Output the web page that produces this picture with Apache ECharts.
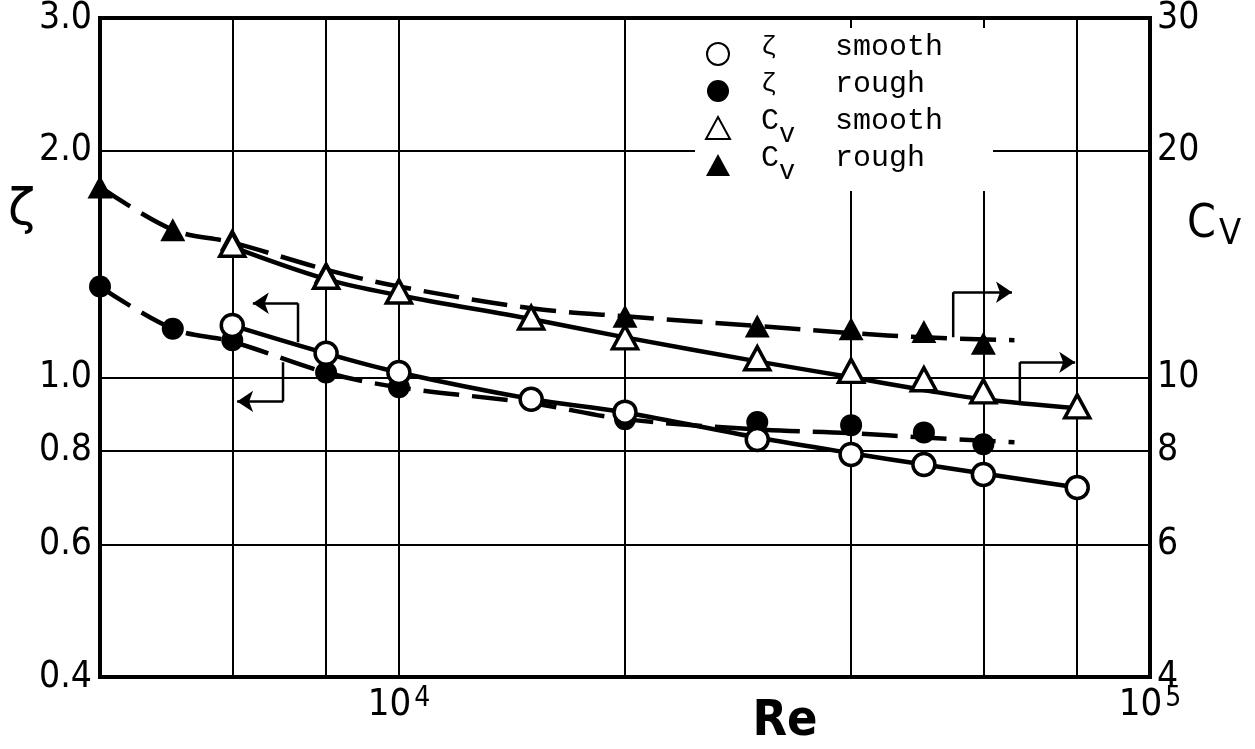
<!DOCTYPE html>
<html>
<head>
<meta charset="utf-8">
<title>zeta, Cv - Re</title>
<script src="https://cdn.jsdelivr.net/npm/echarts@6/dist/echarts.min.js"></script>
<style>
    html, body { margin: 0; padding: 0; background: #fff; }
    #chart { width: 1255px; height: 749px; }
</style>
</head>
<body>
<div id="chart"></div>
<script type="text/javascript">
    // measured points (Re), null = no point at that Re
    var reValues   = [4000, 5000, 6000, 8000, 10000, 15000, 20000, 30000, 40000, 50000, 60000, 80000];
    var zetaSmooth = [null, null, 1.172, 1.076, 1.015, 0.935, 0.899, 0.827, 0.790, 0.766, 0.743, 0.714];
    var zetaRough  = [1.32, 1.16, 1.12, 1.015, 0.970, null, 0.880, 0.872, 0.864, 0.845, 0.815, null];
    var cvSmooth   = [null, null, 15.0, 13.6, 13.0, 12.0, 11.3, 10.6, 10.2, 9.94, 9.58, 9.15];
    var cvRough    = [17.9, 15.7, 15.25, 13.8, 13.1, null, 12.05, 11.7, 11.6, 11.5, 11.1, null];

    // faired curves drawn through the points
    var roughCurveRe   = [4000, 5000, 6000, 8000, 10000, 15000, 20000, 30000, 40000, 50000, 66000];
    var smoothCurveRe  = [6000, 8000, 10000, 15000, 20000, 30000, 40000, 50000, 60000, 80000];
    var zetaRoughCurve  = [1.32, 1.16, 1.115, 1.015, 0.970, 0.924, 0.880, 0.853, 0.843, 0.832, 0.820];
    var zetaSmoothCurve = [1.172, 1.076, 1.015, 0.936, 0.898, 0.832, 0.793, 0.766, 0.745, 0.714];
    var cvRoughCurve    = [17.9, 15.7, 15.1, 13.9, 13.2, 12.35, 12.05, 11.7, 11.45, 11.3, 11.2];
    var cvSmoothCurve   = [14.9, 13.5, 12.85, 11.95, 11.3, 10.5, 10.0, 9.62, 9.35, 9.1];

    // arrows telling which axis a curve belongs to (last leg carries the head)
    var arrowZetaSmooth = [[7340, 1.113], [7340, 1.254], [6390, 1.254]];
    var arrowZetaRough  = [[7010, 1.047], [7010, 0.929], [6090, 0.929]];
    var arrowCvRough    = [[54700, 11.3], [54700, 12.97], [65500, 12.97]];
    var arrowCvSmooth   = [[67100, 9.29], [67100, 10.47], [79500, 10.47]];

    // ticks / grid
    var reGrid     = [6000, 8000, 10000, 20000, 40000, 60000, 80000];
    var reLabels   = [10000, 100000];
    var zetaTicks  = [0.4, 0.6, 0.8, 1.0, 2.0, 3.0];
    var cvTicks    = [4, 6, 8, 10, 20, 30];

    var seriesNames = ['ζ smooth', 'ζ rough', 'Cv smooth', 'Cv rough'];

    var numFont  = "'Liberation Sans Narrow', 'DejaVu Sans Condensed', 'Liberation Sans', sans-serif";
    var monoFont = "'Liberation Mono', 'DejaVu Sans Mono', monospace";

    function pairs(xs, ys) {
        var out = [];
        for (var i = 0; i < xs.length; i++) {
            if (ys[i] != null) out.push([xs[i], ys[i]]);
        }
        return out;
    }

    function curve(name, xs, ys, axis, dashed) {
        return {
            name: name,
            type: 'line',
            yAxisIndex: axis,
            data: pairs(xs, ys),
            smooth: 0.35,
            showSymbol: false,
            silent: true,
            z: 2,
            lineStyle: { color: '#000', width: 4.5, type: dashed ? [36, 13] : 'solid' }
        };
    }

    function points(name, ys, axis, symbol, filled) {
        return {
            name: name,
            type: 'scatter',
            yAxisIndex: axis,
            data: pairs(reValues, ys),
            symbol: symbol,
            symbolSize: symbol == 'triangle' ? [25, 23] : 22,
            z: filled ? 3 : 4,
            itemStyle: filled
                ? { color: '#000', opacity: 1 }
                : { color: '#fff', borderColor: '#000', borderWidth: 3.5, opacity: 1 }
        };
    }

    // stems (all legs but the last) and heads (last leg with arrow symbol)
    function arrowStems(list, axis) {
        return {
            type: 'lines', coordinateSystem: 'cartesian2d', yAxisIndex: axis,
            polyline: true, silent: true, z: 5,
            lineStyle: { color: '#000', width: 2.5, opacity: 1 },
            data: list.map(function (c) { return { coords: c.slice(0, c.length - 1) }; })
        };
    }
    function arrowHeads(list, axis) {
        return {
            type: 'lines', coordinateSystem: 'cartesian2d', yAxisIndex: axis,
            silent: true, z: 5,
            symbol: ['none', 'arrow'], symbolSize: 16,
            lineStyle: { color: '#000', width: 2.5, opacity: 1 },
            data: list.map(function (c) { return { coords: c.slice(c.length - 2) }; })
        };
    }

    var chart = echarts.init(document.getElementById('chart'));
    chart.setOption({
        animation: false,
        backgroundColor: '#fff',
        grid: {
            left: 100, right: 105, top: 18, bottom: 72,
            outerBoundsMode: 'none',
            containLabel: false,
            show: true, borderColor: '#000', borderWidth: 4
        },
        legend: {
            data: seriesNames,
            orient: 'vertical',
            left: 695, top: 28,
            padding: [4, 50, 4, 10],
            itemGap: -7,
            itemWidth: 24, itemHeight: 22,
            backgroundColor: '#fff',
            selectedMode: false,
            textStyle: {
                fontFamily: monoFont, fontSize: 30, color: '#000',
                rich: {
                    g: { fontFamily: monoFont, fontSize: 26, lineHeight: 30, width: 74, padding: [0, 0, 14, 26] },
                    c: { fontFamily: monoFont, fontSize: 30, lineHeight: 30, padding: [0, 0, 14, 26] },
                    v: { fontFamily: monoFont, fontSize: 27, lineHeight: 21, width: 56, padding: [13, 0, 0, 0] },
                    t: { fontFamily: monoFont, fontSize: 30, lineHeight: 30, padding: [0, 0, 14, 0] }
                }
            },
            formatter: function (name) {
                var parts = name.split(' ');
                if (parts[0] == 'ζ') return '{g|ζ}{t|' + parts[1] + '}';
                return '{c|C}{v|v}{t|' + parts[1] + '}';
            }
        },
        graphic: [
            {
                type: 'text', left: 8, top: 186,
                style: { text: 'ζ', font: "50px 'DejaVu Sans', sans-serif", fill: '#000' }
            },
            {
                type: 'text', left: 1187, top: 197,
                style: {
                    text: '{c|C}{v|V}', fill: '#000',
                    rich: {
                        c: { fontFamily: numFont, fontSize: 46, lineHeight: 46, verticalAlign: 'top' },
                        v: { fontFamily: numFont, fontSize: 36, lineHeight: 36, padding: [20, 0, 0, 3] }
                    }
                }
            }
        ],
        xAxis: {
            type: 'log', logBase: 10, min: 4000, max: 100000,
            name: 'Re', nameLocation: 'middle', nameGap: 20,
            nameMoveOverlap: false,
            nameTextStyle: {
                fontFamily: numFont, fontSize: 50, fontWeight: 'bold', color: '#000',
                padding: [0, 0, 0, 320]
            },
            axisLine: { show: false },
            axisTick: { show: false, customValues: reGrid },
            splitLine: { show: true, lineStyle: { color: '#000', width: 2 } },
            axisLabel: {
                customValues: reLabels,
                margin: 8,
                color: '#000',
                formatter: function (v) {
                    return '{b|10}{s|' + Math.round(Math.log(v) / Math.LN10) + '}';
                },
                rich: {
                    b: { fontFamily: numFont, fontSize: 38, lineHeight: 40, color: '#000' },
                    s: { fontFamily: numFont, fontSize: 28, lineHeight: 28, verticalAlign: 'top', color: '#000', padding: [0, 0, 0, 3] }
                }
            }
        },
        yAxis: [{
            type: 'log', logBase: 10, min: 0.4, max: 3,
            axisLine: { show: false },
            axisTick: { show: false, customValues: zetaTicks },
            splitLine: { show: true, lineStyle: { color: '#000', width: 2 } },
            axisLabel: {
                customValues: zetaTicks,
                margin: 8,
                color: '#000', fontFamily: numFont, fontSize: 37,
                formatter: function (v) { return v.toFixed(1); }
            }
        }, {
            type: 'log', logBase: 10, min: 4, max: 30,
            position: 'right',
            axisLine: { show: false },
            axisTick: { show: false, customValues: cvTicks },
            splitLine: { show: false },
            axisLabel: {
                customValues: cvTicks,
                margin: 7,
                color: '#000', fontFamily: numFont, fontSize: 37,
                formatter: function (v) { return String(Math.round(v)); }
            }
        }],
        series: [
            curve('zeta rough curve', roughCurveRe, zetaRoughCurve, 0, true),
            curve('zeta smooth curve', smoothCurveRe, zetaSmoothCurve, 0, false),
            curve('Cv rough curve', roughCurveRe, cvRoughCurve, 1, true),
            curve('Cv smooth curve', smoothCurveRe, cvSmoothCurve, 1, false),
            points('ζ rough', zetaRough, 0, 'circle', true),
            points('Cv rough', cvRough, 1, 'triangle', true),
            points('ζ smooth', zetaSmooth, 0, 'circle', false),
            points('Cv smooth', cvSmooth, 1, 'triangle', false),
            arrowStems([arrowZetaSmooth, arrowZetaRough], 0),
            arrowHeads([arrowZetaSmooth, arrowZetaRough], 0),
            arrowStems([arrowCvRough, arrowCvSmooth], 1),
            arrowHeads([arrowCvRough, arrowCvSmooth], 1)
        ]
    });
</script>
</body>
</html>
